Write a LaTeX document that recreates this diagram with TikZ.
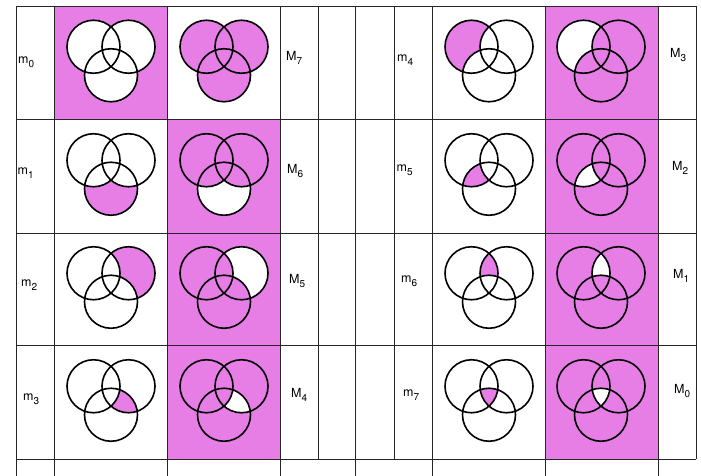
\documentclass[tikz,border=0pt]{standalone}
\usepackage{fontspec}
\setmainfont{TeX Gyre Heros}
\definecolor{mag}{RGB}{230,126,230}
\newcommand\lbl[2]{#1\raisebox{-3.8pt}{\fontsize{10}{10}\selectfont #2}}
\def\pA{(-17.5,-14.25) circle[radius=26.5]}
\def\pB{(17.5,-14.25) circle[radius=26.5]}
\def\pC{(0,14.25) circle[radius=26.5]}
% region j of the three circles, painted #2, erasing with #3
\newcommand\vennregion[3]{%
  \ifcase#1\relax
  \or \fill[#2] \pC; \fill[#3] \pA; \fill[#3] \pB;
  \or \fill[#2] \pB; \fill[#3] \pA; \fill[#3] \pC;
  \or \begin{scope}\clip \pB; \fill[#2] \pC;\end{scope} \fill[#3] \pA;
  \or \fill[#2] \pA; \fill[#3] \pB; \fill[#3] \pC;
  \or \begin{scope}\clip \pA; \fill[#2] \pC;\end{scope} \fill[#3] \pB;
  \or \begin{scope}\clip \pA; \fill[#2] \pB;\end{scope} \fill[#3] \pC;
  \or \begin{scope}\clip \pA; \clip \pB; \fill[#2] \pC;\end{scope}
  \fi}
\newcommand\vennlines{\draw[circ] \pA; \draw[circ] \pB; \draw[circ] \pC;}
% minterm venn: region magenta on white
\newcommand\vmin[3]{\begin{scope}[shift={(#1,#2)}]\vennregion{#3}{mag}{white}\vennlines\end{scope}}
% maxterm venn: region white on magenta (cell already magenta)
\newcommand\vmax[3]{\begin{scope}[shift={(#1,#2)}]\vennregion{#3}{white}{mag}\vennlines\end{scope}}
\tikzset{
  gridline/.style={line width=0.8pt, draw=black!85},
  circ/.style={line width=1.6pt, draw=black},
  lab/.style={anchor=west, inner sep=0pt, font=\fontsize{12.5}{14}\selectfont},
}
\begin{document}
\begin{tikzpicture}[x=1pt,y=-1pt]
\useasboundingbox[fill=white] (0,0) rectangle (701,476);
% magenta cells
\fill[mag] (54,6) rectangle (167,119);
\fill[mag] (167,119) rectangle (280,459);
\fill[mag] (545,6) rectangle (658,459);
% row 1
\begin{scope}[shift={(111,61)}]
  \fill[white] \pA; \fill[white] \pB; \fill[white] \pC; \vennlines
\end{scope}
\begin{scope}[shift={(224,61)}]
  \fill[mag] \pA; \fill[mag] \pB; \fill[mag] \pC; \vennlines
\end{scope}
\vmin{489}{61}{4}   \vmax{601}{61}{4}
% row 2
\vmin{111}{174.5}{1} \vmax{224}{174.5}{1}
\vmin{489}{174.5}{5} \vmax{601}{174.5}{5}
% row 3
\vmin{111}{287.5}{2} \vmax{224}{287.5}{2}
\vmin{489}{287.5}{6} \vmax{601}{287.5}{6}
% row 4
\vmin{111}{400.5}{3} \vmax{224}{400.5}{3}
\vmin{489}{400.5}{7} \vmax{601}{400.5}{7}
% grid
\draw[gridline] (16,6) -- (696,6);
\foreach \y in {119,233,345,459} \draw[gridline] (16,\y) -- (696,\y);
\foreach \x in {16,54,167,280,355,432,545,658} \draw[gridline] (\x,6) -- (\x,476);
\foreach \x in {318,394,696} \draw[gridline] (\x,6) -- (\x,459);
% labels
\node[lab] (m0) at (18,62) {\lbl{m}{0}};
\node[lab] (m1) at (17.5,173) {\lbl{m}{1}};
\node[lab] (m2) at (21,285) {\lbl{m}{2}};
\node[lab] (m3) at (23,399) {\lbl{m}{3}};
\node[lab] (M7) at (286,58) {\lbl{M}{7}};
\node[lab] (M6) at (287,171) {\lbl{M}{6}};
\node[lab] (M5) at (289,281) {\lbl{M}{5}};
\node[lab] (M4) at (291,395) {\lbl{M}{4}};
\node[lab] (m4) at (397,60) {\lbl{m}{4}};
\node[lab] (m5) at (396.5,170) {\lbl{m}{5}};
\node[lab] (m6) at (401,281) {\lbl{m}{6}};
\node[lab] (m7) at (403,395) {\lbl{m}{7}};
\node[lab] (M3) at (670,55) {\lbl{M}{3}};
\node[lab] (M2) at (672,168) {\lbl{M}{2}};
\node[lab] (M1) at (673,276) {\lbl{M}{1}};
\node[lab] (M0) at (674,391) {\lbl{M}{0}};
\end{tikzpicture}
\end{document}
